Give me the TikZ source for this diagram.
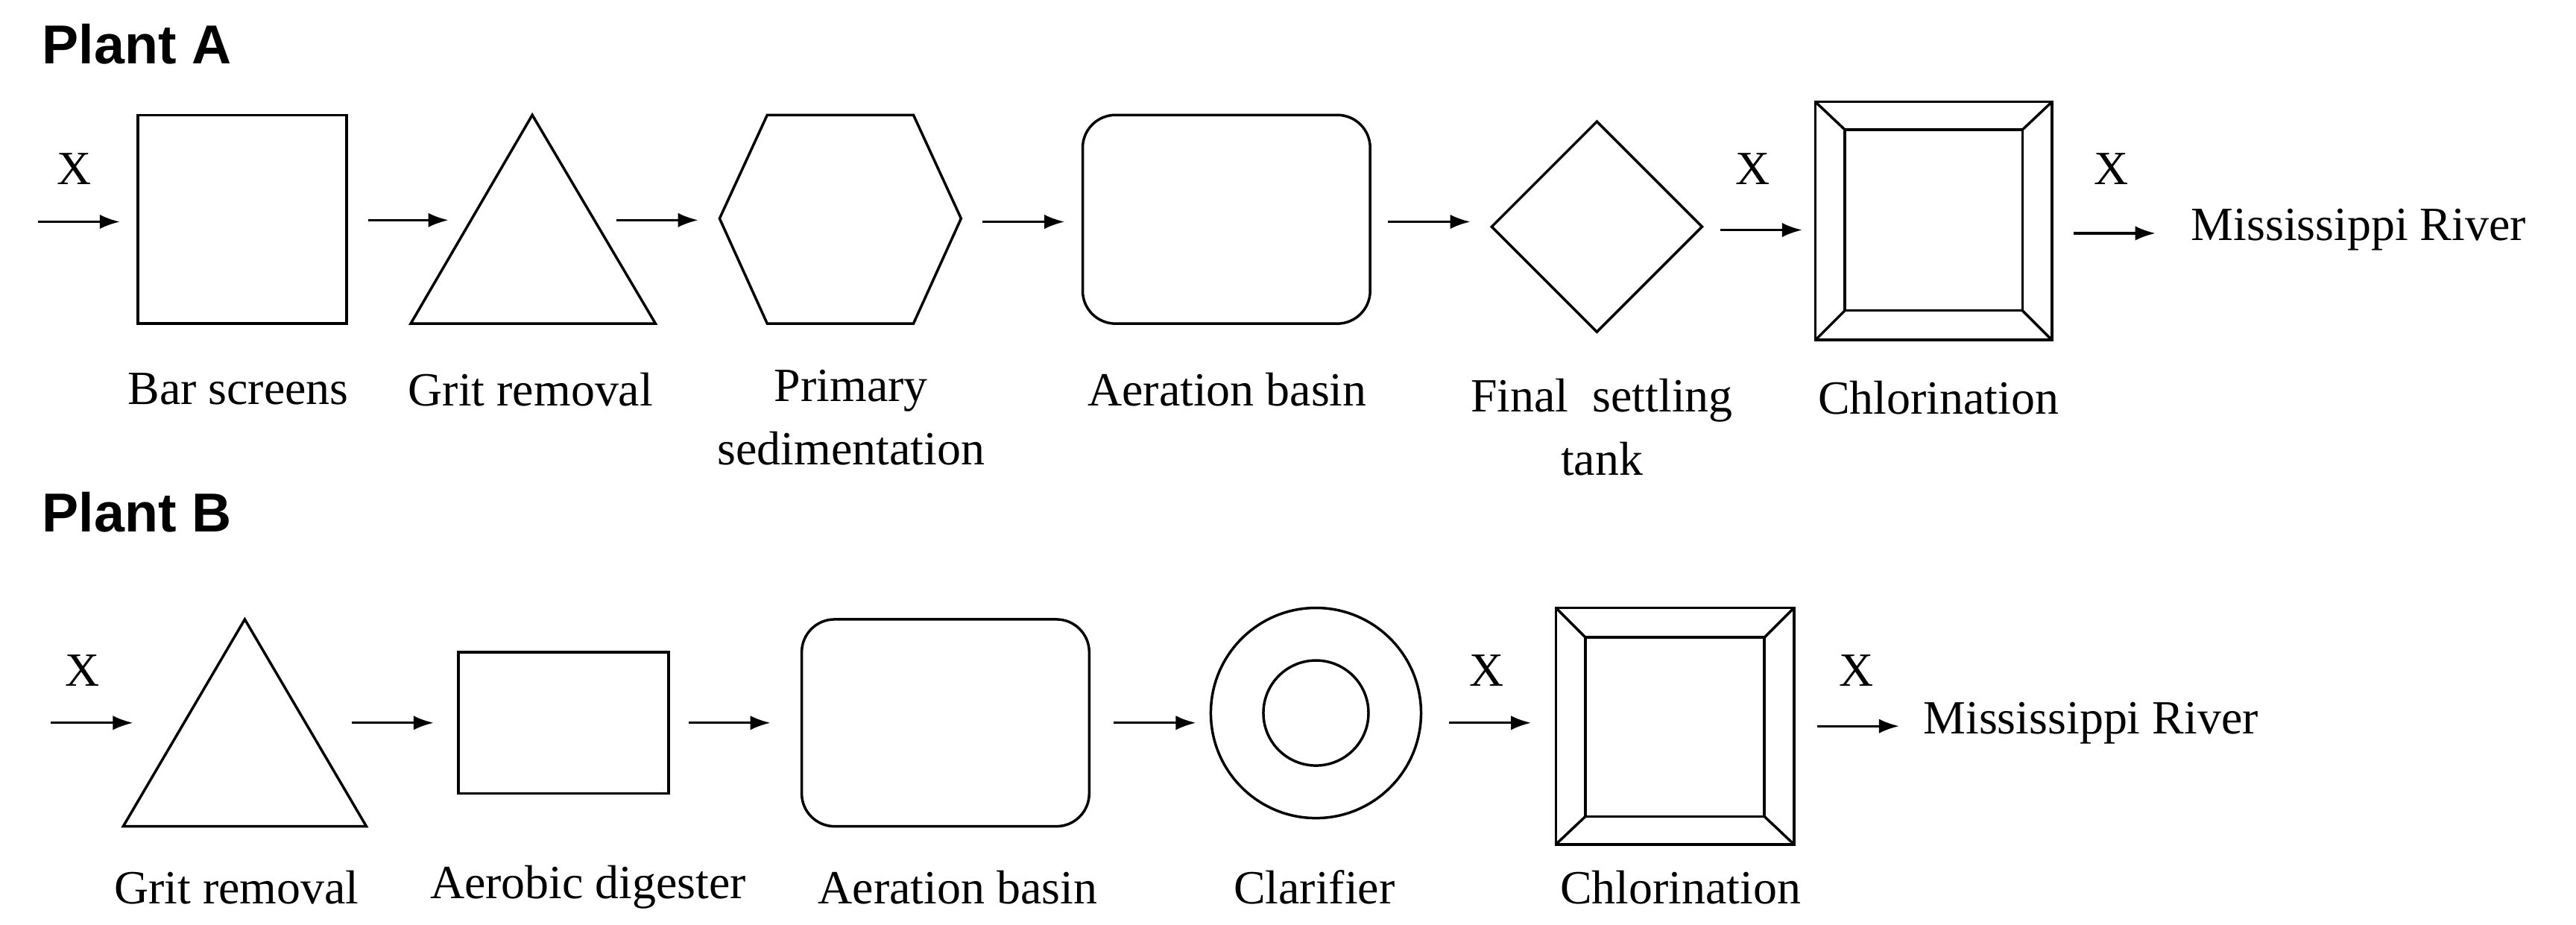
\documentclass[tikz,border=0pt]{standalone}
\usepackage{fontspec}
\setmainfont{Liberation Serif}
\newfontfamily\hdr{Liberation Sans}
\usetikzlibrary{arrows.meta}
\begin{document}
\begin{tikzpicture}[x=0.02cm,y=-0.02cm,line width=0.9pt,
  lbl/.style={font=\fontsize{16.5}{20}\selectfont,align=center,inner sep=0},
  ttl/.style={font=\hdr\bfseries\fontsize{19}{22}\selectfont,anchor=west,inner sep=0},
  arr/.style={-{Latex[length=7pt,width=5pt]},line width=0.8pt}]
\useasboundingbox (0,0) rectangle (1568,563);
% Plant A
\node[ttl] (ta) at (25,27) {Plant A};
\node[lbl] (xa1) at (45,103) {X};
\coordinate (a0s) at (23,135); \coordinate (a0e) at (73,135);
\draw[arr] (a0s) -- (a0e);
\draw (84,70) rectangle (211,197);
\node[lbl] (la1) at (145,237) {Bar screens};
\coordinate (a1s) at (224,134); \coordinate (a1e) at (273,134);
\draw[arr] (a1s) -- (a1e);
\draw (324,70) -- (399,197) -- (250,197) -- cycle;
\node[lbl] (la2) at (323,237) {Grit removal};
\coordinate (a2s) at (375,134); \coordinate (a2e) at (425,134);
\draw[arr] (a2s) -- (a2e);
\draw (438,133) -- (467,70) -- (556,70) -- (585,133) -- (556,197) -- (467,197) -- cycle;
\node[lbl] (la3) at (518,254) {Primary\\[2pt]sedimentation};
\coordinate (a3s) at (598,135); \coordinate (a3e) at (648,135);
\draw[arr] (a3s) -- (a3e);
\draw[rounded corners=0.4cm] (659,70) rectangle (834,197);
\node[lbl] (la4) at (747,237) {Aeration basin};
\coordinate (a4s) at (845,135); \coordinate (a4e) at (895,135);
\draw[arr] (a4s) -- (a4e);
\draw (908,138) -- (972,74) -- (1036,138) -- (972,202) -- cycle;
\node[lbl] (la5) at (975,260) {Final\ \ settling\\[2pt]tank};
\node[lbl] (xa2) at (1067,103) {X};
\coordinate (a5s) at (1047,140); \coordinate (a5e) at (1097,140);
\draw[arr] (a5s) -- (a5e);
\draw (1105,62) rectangle (1249,207);
\draw (1123,79) rectangle (1231,189);
\draw (1105,62) -- (1123,79) (1249,62) -- (1231,79) (1105,207) -- (1123,189) (1249,207) -- (1231,189);
\node[lbl] (la6) at (1180,242) {Chlorination};
\node[lbl] (xa3) at (1285,103) {X};
\coordinate (a6s) at (1262,142); \coordinate (a6e) at (1312,142);
\draw[arr] (a6s) -- (a6e);
\node[lbl,anchor=west] (ra) at (1333,140) {Mississippi River};
% Plant B
\node[ttl] (tb) at (25,312) {Plant B};
\node[lbl] (xb1) at (50,408) {X};
\coordinate (b0s) at (31,440); \coordinate (b0e) at (81,440);
\draw[arr] (b0s) -- (b0e);
\draw (149,377) -- (223,503) -- (75,503) -- cycle;
\node[lbl] (lb1) at (144,540) {Grit removal};
\coordinate (b1s) at (214,440); \coordinate (b1e) at (264,440);
\draw[arr] (b1s) -- (b1e);
\draw (279,397) rectangle (407,483);
\node[lbl] (lb2) at (358,540) {Aerobic digester};
\coordinate (b2s) at (419,440); \coordinate (b2e) at (469,440);
\draw[arr] (b2s) -- (b2e);
\draw[rounded corners=0.4cm] (488,377) rectangle (663,503);
\node[lbl] (lb3) at (583,540) {Aeration basin};
\coordinate (b3s) at (678,440); \coordinate (b3e) at (728,440);
\draw[arr] (b3s) -- (b3e);
\draw (801,434) circle (1.28cm);
\draw (801,434) circle (0.64cm);
\node[lbl] (lb4) at (800,540) {Clarifier};
\node[lbl] (xb2) at (905,408) {X};
\coordinate (b4s) at (882,440); \coordinate (b4e) at (932,440);
\draw[arr] (b4s) -- (b4e);
\draw (947,370) rectangle (1092,514);
\draw (965,388) rectangle (1074,497);
\draw (947,370) -- (965,388) (1092,370) -- (1074,388) (947,514) -- (965,497) (1092,514) -- (1074,497);
\node[lbl] (lb5) at (1023,540) {Chlorination};
\node[lbl] (xb3) at (1130,408) {X};
\coordinate (b5s) at (1106,442); \coordinate (b5e) at (1156,442);
\draw[arr] (b5s) -- (b5e);
\node[lbl,anchor=west] (rb) at (1170,440) {Mississippi River};
\end{tikzpicture}
\end{document}
